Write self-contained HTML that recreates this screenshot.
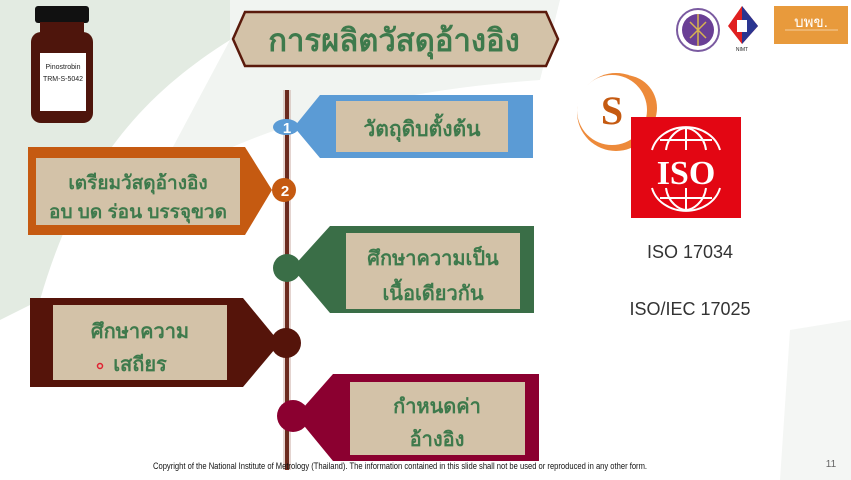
<!DOCTYPE html>
<html><head><meta charset="utf-8"><style>
body{margin:0;width:851px;height:480px;overflow:hidden;background:#fff;font-family:"Liberation Sans","Noto Sans CJK SC",sans-serif;}
svg{display:block}
.th{font-family:"Liberation Sans","Noto Sans CJK SC",sans-serif;fill:#3e7a4c;text-anchor:middle;font-weight:bold}
</style></head><body>
<svg width="851" height="480" viewBox="0 0 851 480">
<rect width="851" height="480" fill="#fff"/>
<path d="M0 0 H250 L230 40 C150 90 80 160 40 300 L0 320 Z" fill="#e3ebe2"/>
<path d="M230 0 H560 L540 80 C400 90 260 120 150 190 L230 40 Z" fill="#f1f4f1"/>
<path d="M790 330 L851 320 V480 H780 Z" fill="#f4f6f4"/>
<!-- bottle -->
<rect x="35" y="6" width="54" height="17" rx="3" fill="#111"/>
<rect x="40" y="22" width="44" height="12" fill="#4e150c"/>
<rect x="31" y="32" width="62" height="91" rx="10" fill="#4e150c"/>
<rect x="40" y="53" width="46" height="58" fill="#fff"/>
<text x="63" y="69" font-size="7" text-anchor="middle" fill="#222">Pinostrobin</text>
<text x="63" y="81" font-size="7" text-anchor="middle" fill="#222">TRM-S-5042</text>
<!-- title -->
<polygon points="245,12 546,12 558,39 546,66 245,66 233,39" fill="#d3c2a8" stroke="#5a1a0c" stroke-width="2.5"/>
<text class="th" x="394" y="51" font-size="31">การผลิตวัสดุอ้างอิง</text>
<!-- logos -->
<circle cx="698" cy="30" r="21" fill="#fff" stroke="#7a5aa0" stroke-width="2"/>
<circle cx="698" cy="30" r="16" fill="#6a3f95"/>
<path d="M698 14 L698 46 M690 22 L706 38 M706 22 L690 38" stroke="#d8b350" stroke-width="1.5"/>
<polygon points="742,6 758,26 742,44 728,26" fill="#e02020"/>
<polygon points="742,6 758,26 742,44" fill="#2a3590"/>
<rect x="737" y="20" width="10" height="12" fill="#fff"/>
<text x="742" y="51" font-size="5" text-anchor="middle" fill="#222">NIMT</text>
<rect x="774" y="6" width="74" height="38" fill="#e89a3c"/>
<text x="811" y="27" font-size="15" fill="#fff" text-anchor="middle">บพข.</text>
<line x1="785" y1="30" x2="838" y2="30" stroke="#fff" stroke-width="0.6"/>
<!-- timeline -->
<rect x="283" y="90" width="8" height="380" fill="#c9a9a2" opacity="0.5"/>
<rect x="285" y="90" width="4" height="380" fill="#6b2a1e"/>
<!-- tag1 -->
<polygon points="320,95 533,95 533,158 320,158 294,127" fill="#5b9bd5"/>
<ellipse cx="286" cy="127" rx="13" ry="8" fill="#5b9bd5"/>
<text x="287" y="133" font-size="15" font-weight="bold" fill="#fff" text-anchor="middle">1</text>
<rect x="336" y="101" width="172" height="51" fill="#d3c2a8"/>
<text class="th" x="422" y="136" font-size="21">วัตถุดิบตั้งต้น</text>
<!-- tag2 -->
<polygon points="28,147 245,147 272,190 245,235 28,235" fill="#c55a11"/>
<circle cx="284" cy="190" r="12" fill="#c55a11"/>
<text x="285" y="196" font-size="15" font-weight="bold" fill="#fff" text-anchor="middle">2</text>
<rect x="36" y="158" width="204" height="67" fill="#d3c2a8"/>
<text class="th" x="138" y="189" font-size="19">เตรียมวัสดุอ้างอิง</text>
<text class="th" x="138" y="218" font-size="19">อบ บด ร่อน บรรจุขวด</text>
<!-- tag3 -->
<polygon points="330,226 534,226 534,313 330,313 292,268" fill="#3a6e47"/>
<circle cx="287" cy="268" r="14" fill="#3a6e47"/>
<rect x="346" y="233" width="174" height="76" fill="#d3c2a8"/>
<text class="th" x="433" y="265" font-size="20">ศึกษาความเป็น</text>
<text class="th" x="433" y="300" font-size="20">เนื้อเดียวกัน</text>
<!-- tag4 -->
<polygon points="30,298 243,298 280,343 243,387 30,387" fill="#55140a"/>
<circle cx="286" cy="343" r="15" fill="#55140a"/>
<rect x="53" y="305" width="174" height="75" fill="#d3c2a8"/>
<text class="th" x="140" y="338" font-size="20">ศึกษาความ</text>
<text class="th" x="140" y="371" font-size="20">เสถียร</text>
<circle cx="100" cy="366" r="2.5" fill="none" stroke="#e02030" stroke-width="1.5"/>
<!-- tag5 -->
<polygon points="333,374 539,374 539,461 333,461 296,416" fill="#8b0030"/>
<circle cx="293" cy="416" r="16" fill="#8b0030"/>
<rect x="350" y="382" width="175" height="73" fill="#d3c2a8"/>
<text class="th" x="437" y="413" font-size="20">กำหนดค่า</text>
<text class="th" x="437" y="446" font-size="20">อ้างอิง</text>
<!-- S & ISO -->
<circle cx="624" cy="108" r="33" fill="#ed8a3a"/>
<circle cx="616" cy="112" r="39" fill="#ed8a3a"/>
<circle cx="612" cy="110" r="35" fill="#fff"/>
<text x="612" y="124" font-size="40" font-weight="bold" font-family="Liberation Serif,serif" fill="#c55a11" text-anchor="middle">S</text>
<rect x="631" y="117" width="110" height="101" fill="#e30613"/>
<g stroke="#fff" stroke-width="2" fill="none">
<path d="M652 150 A35 30 0 0 1 720 150"/><path d="M666 150 C668 135 680 128 686 128 C692 128 704 135 706 150"/>
<path d="M686 128 V150"/><path d="M660 140 H712"/>
<path d="M652 188 A35 30 0 0 0 720 188"/><path d="M666 188 C668 203 680 210 686 210 C692 210 704 203 706 188"/>
<path d="M686 188 V210"/><path d="M660 198 H712"/>
</g>
<text x="686" y="184" font-size="34" font-weight="bold" fill="#fff" text-anchor="middle" font-family="Liberation Serif,serif">ISO</text>
<text x="690" y="258" font-size="18" fill="#333" text-anchor="middle">ISO 17034</text>
<text x="690" y="315" font-size="18" fill="#333" text-anchor="middle">ISO/IEC 17025</text>
<text x="400" y="469" font-size="9" fill="#111" text-anchor="middle" textLength="494" lengthAdjust="spacingAndGlyphs">Copyright of the National Institute of Metrology (Thailand). The information contained in this slide shall not be used or reproduced in any other form.</text>
<text x="831" y="467" font-size="10" fill="#666" text-anchor="middle">11</text>
</svg>
</body></html>
